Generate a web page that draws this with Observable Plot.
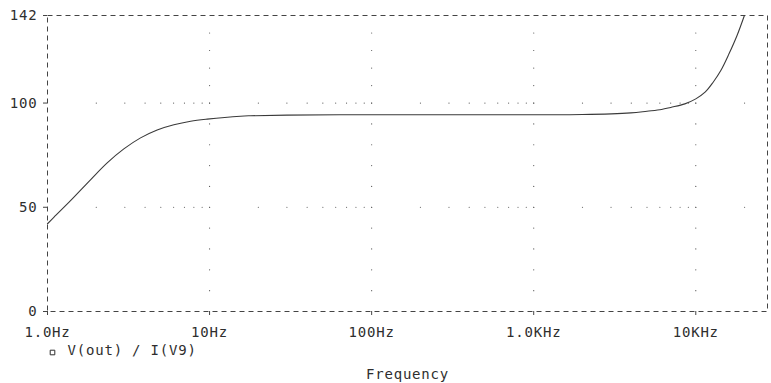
<!DOCTYPE html>
<html>
<head>
<meta charset="utf-8">
<script src="https://cdn.jsdelivr.net/npm/d3@7"></script>
<script src="https://cdn.jsdelivr.net/npm/@observablehq/plot@0.6"></script>
<style>
  html, body { margin: 0; padding: 0; background: #fff; }
  svg text { letter-spacing: 0.8px; }
</style>
</head>
<body>
<div id="chart"></div>
<script>
// Data
const freq = [1, 1.094, 1.387, 1.842, 2.335, 2.958, 3.75, 4.75, 6.02, 7.64, 9.67, 15.5, 17.9, 30, 100, 300, 1000, 2000, 3970, 5000, 6150, 7000, 8560, 10000, 11410, 12800, 14270, 16030, 17970, 19950];
const gain = [42.1, 45.2, 53.2, 63.2, 71.3, 78.0, 83.3, 87.1, 89.6, 91.3, 92.3, 93.7, 93.9, 94.2, 94.4, 94.4, 94.4, 94.5, 95.3, 96.1, 96.9, 97.9, 99.6, 102.0, 105.2, 110.0, 115.6, 123.6, 132.4, 142];

const xDomain = [1, 27700];
const yDomain = [0, 142];
const xTicks = [1, 10, 100, 1000, 10000];
const xTickLabels = ["1.0Hz", "10Hz", "100Hz", "1.0KHz", "10KHz"];
const yTicks = [0, 50, 100, 142];
const yTickLabels = ["0", "50", "100", "142"];
const xGridLines = [10, 100, 1000, 10000];
const yGridLines = [50, 100];
const yGridDots = [10, 20, 30, 40, 50, 60, 70, 80, 90, 100, 108.4, 116.8, 125.2, 133.6];
const minorMult = [1, 2, 3, 4, 5, 6, 7, 8, 9];
const seriesLabel = "V(out) / I(V9)";
const xLabel = "Frequency";

const data = freq.map((f, i) => ({f, v: gain[i]}));

// grid dot positions
const xGridDots = [];
for (const d of [1, 10, 100, 1000, 10000]) for (const m of minorMult) {
  const v = d * m;
  if (v > xDomain[0] && v < xDomain[1]) xGridDots.push(v);
}
const hDots = [];
for (const y of yGridLines) for (const x of xGridDots) hDots.push({x, y});
const vDots = [];
for (const x of xGridLines) for (const y of yGridDots) vDots.push({x, y});

const ink = "#2e2e2e";
const font = "'DejaVu Sans Mono', monospace";

const chart = Plot.plot({
  width: 771,
  height: 383,
  marginLeft: 47,
  marginRight: 4,
  marginTop: 15,
  marginBottom: 72,
  style: {fontFamily: font, fontSize: "14px", color: ink, background: "#fff"},
  x: {type: "log", domain: xDomain},
  y: {domain: yDomain},
  marks: [
    Plot.dot(hDots, {x: "x", y: "y", r: 0.6, fill: "#555", stroke: "none"}),
    Plot.dot(vDots, {x: "x", y: "y", r: 0.6, fill: "#555", stroke: "none"}),
    Plot.frame({stroke: "#444", strokeDasharray: "5,4"}),
    Plot.axisX({ticks: xTicks, tickFormat: d => xTickLabels[xTicks.indexOf(d)], tickSize: 4, tickPadding: 12, fontSize: 14, label: null, stroke: "#444"}),
    Plot.axisY({ticks: yTicks, tickFormat: d => yTickLabels[yTicks.indexOf(d)], tickSize: 4, tickPadding: 6, fontSize: 14, label: null, stroke: "#444"}),
    Plot.line(data, {x: "f", y: "v", stroke: "#3a3a3a", strokeWidth: 1.1, curve: "catmull-rom"}),
    Plot.dot([0], {frameAnchor: "bottom-left", dx: 5, dy: 41, symbol: "square", r: 2.6, stroke: ink, strokeWidth: 1, fill: "none"}),
    Plot.text([seriesLabel], {frameAnchor: "bottom-left", text: d => d, dx: 20, dy: 43, textAnchor: "start", lineAnchor: "bottom", fontSize: 14, fill: ink}),
    Plot.text([xLabel], {frameAnchor: "bottom", text: d => d, dy: 67, lineAnchor: "bottom", fontSize: 14, fill: ink})
  ]
});
document.getElementById("chart").appendChild(chart);
</script>
</body>
</html>
